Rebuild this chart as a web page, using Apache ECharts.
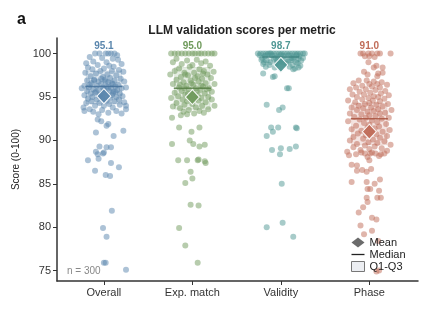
<!DOCTYPE html>
<html>
<head>
<meta charset="utf-8">
<script src="https://cdn.jsdelivr.net/npm/echarts@6/dist/echarts.min.js"></script>
<style>
  html, body { margin: 0; padding: 0; background: #fff; }
  #main { width: 433px; height: 319px; }
</style>
</head>
<body>
<div id="main"></div>
<script>
var categories = ['Overall', 'Exp. match', 'Validity', 'Phase'];
var colors = ['#5a86ad', '#6f9a5c', '#4f9794', '#c06c58'];
var darkColors = ['#44709a', '#577f45', '#3b7f7c', '#a8523e'];
var yTicks = [75, 80, 85, 90, 95, 100];

var means = [95.1, 95.0, 98.7, 91.0];
var medians = [96.2, 96.0, 99.6, 92.5];
var q1 = [94.2, 93.6, 99.0, 89.5];
var q3 = [98.0, 98.4, 100, 94.3];

// [jitter offset, score]
var overallPts = [
  [-0.05,100],[0.02,100],[0.08,100],[0.12,100],[-0.1,100],[0.05,100],[0.15,99.8],[-0.16,99.6],[0.16,99.3],[-0.2,98.9],
  [-0.02,99.5],[0.1,99.4],[-0.12,99.1],[0.03,99.0],[0.2,98.8],[-0.07,98.7],[0.11,98.5],[-0.18,98.4],[0.0,98.3],[0.06,98.6],
  [-0.13,98.2],[0.17,98.1],[-0.04,98.0],[0.09,98.0],[0.22,97.9],
  [-0.21,97.8],[-0.09,97.7],[0.04,97.6],[0.14,97.5],[-0.15,97.4],[-0.01,97.3],[0.07,97.2],[0.19,97.1],[-0.11,97.0],[0.01,97.0],
  [0.12,96.9],[-0.19,96.9],[-0.06,96.8],[0.23,96.8],[0.05,96.7],[-0.14,96.6],[0.1,96.5],[-0.03,96.5],[0.16,96.4],[-0.22,96.3],
  [-0.08,96.3],[0.03,96.2],[0.13,96.2],[-0.17,96.1],[-0.01,96.1],[0.08,96.0],[0.2,96.0],[-0.12,95.9],[0.0,95.9],[-0.25,96.0],
  [0.25,96.1],[0.15,95.8],[-0.06,95.8],[0.06,95.7],[-0.19,95.7],[0.11,95.6],[-0.1,95.5],[0.02,95.5],[0.18,95.4],[-0.15,95.4],
  [-0.04,95.3],[0.09,95.2],[-0.22,95.2],[0.21,95.1],[-0.13,95.0],[0.14,95.0],[-0.02,94.9],[0.07,94.9],[-0.18,94.8],[0.17,94.7],
  [-0.08,94.7],[0.03,94.6],[0.12,94.5],[-0.14,94.5],[0.23,94.4],
  [-0.2,94.3],[-0.05,94.3],[0.06,94.2],[0.18,94.1],[-0.1,94.0],[0.0,94.0],[0.25,94.0],[-0.23,93.8],[0.1,93.8],[-0.16,93.6],
  [0.25,93.6],[-0.02,93.5],[0.14,93.4],[-0.12,93.3],[0.05,93.2],[-0.22,93.4],[0.2,93.1],[-0.06,93.0],
  [-0.07,92.4],[-0.03,92.2],[0.03,91.7],[0.05,91.9],[0.22,91.1],[-0.09,90.9],[0.11,90.5],[-0.05,89.3],[0.03,89.2],[0.08,89.2],
  [-0.09,88.7],[-0.01,88.5],[-0.07,88.4],[0.0,88.6],[-0.18,87.7],[-0.06,87.9],[0.08,87.4],[0.17,86.9],[-0.1,86.5],[0.02,86.0],
  [0.07,85.9],[0.09,81.9],[-0.01,79.9],[0.03,78.9],[0.0,75.9],[0.02,75.9],[0.25,75.1],
  [-0.03,97.1],[0.09,96.6],[-0.16,96.4],[0.05,96.1],[-0.09,95.6],[0.13,95.6],[-0.05,95.1],[0.1,95.4],[-0.11,96.9],[0.02,96.8]
];

var expPts = [
  [-0.24,100],[-0.2,100],[-0.16,100],[-0.12,100],[-0.08,100],[-0.04,100],[0,100],[0.03,100],[0.07,100],[0.1,100],
  [0.14,100],[0.18,100],[0.22,100],[0.25,100],
  [-0.18,99.4],[0.05,99.3],[-0.06,99.2],[0.15,99.1],[-0.22,99.0],[0.1,98.9],[-0.12,98.8],[0.0,98.7],[0.2,98.6],[-0.03,98.5],
  [-0.15,98.3],[0.08,98.2],[-0.2,98.0],[0.13,98.0],[0.24,97.9],[-0.09,97.8],[0.02,97.8],[-0.25,97.6],[0.17,97.6],[-0.05,97.5],
  [0.06,97.4],[-0.13,97.3],[0.21,97.2],[0.11,97.1],
  [-0.18,97.0],[-0.02,96.9],[0.07,96.8],[-0.1,96.7],[0.15,96.6],[0.25,96.5],[-0.22,96.5],[0.01,96.4],[-0.07,96.3],[0.12,96.2],
  [-0.15,96.1],[0.04,96.0],[0.19,96.0],[-0.04,95.9],[0.09,95.8],[-0.12,95.7],[0.22,95.6],[-0.2,95.5],
  [0.0,95.5],[0.14,95.4],[-0.08,95.3],[0.06,95.2],[-0.16,95.1],[0.18,95.0],[-0.03,95.0],[0.1,94.9],[-0.24,94.9],[0.03,94.8],
  [-0.11,94.7],[0.22,94.7],[0.07,94.6],[-0.06,94.5],
  [0.15,94.4],[-0.18,94.3],[0.0,94.2],[-0.09,94.1],[0.11,94.0],[0.25,94.0],[-0.22,93.9],[0.04,93.8],[-0.14,93.7],[0.18,93.6],
  [-0.04,93.5],[0.08,93.4],[-0.1,93.3],[0.13,93.2],[-0.06,93.0],[0.02,93.1],
  [-0.23,92.6],[-0.13,92.9],[-0.15,91.5],[0.08,91.5],[-0.01,91.0],[-0.23,89.6],[-0.03,90.0],[0.01,89.6],[0.08,89.3],[0.14,89.5],
  [-0.06,87.7],[0.06,87.7],[0.14,87.6],[-0.16,87.7],[0.07,87.8],[0.15,87.4],[-0.02,86.4],[0.0,85.6],[-0.08,85.1],[-0.02,82.6],
  [0.07,82.5],[-0.15,79.9],[-0.08,77.9],[0.06,75.9],
  [-0.01,96.6],[0.1,96.3],[-0.09,96.0],[0.05,95.7],[-0.05,95.4],[0.16,95.9],[-0.14,96.4],[0.03,97.2],[-0.08,97.6],[0.12,97.7]
];

var validityPts = [
  [-0.26,100],[-0.23,100],[-0.2,100],[-0.17,100],[-0.14,100],[-0.11,100],[-0.08,100],[-0.05,100],[-0.02,100],[0.01,100],
  [0.04,100],[0.07,100],[0.1,100],[0.13,100],[0.16,100],[0.19,100],[0.22,100],[0.25,100],[0.27,100],[-0.12,100],
  [-0.24,99.8],[-0.18,99.7],[-0.1,99.8],[-0.03,99.6],[0.03,99.7],[0.09,99.8],[0.15,99.6],[0.21,99.7],[0.25,99.5],[-0.21,99.5],
  [-0.06,99.5],[0.12,99.5],[0.0,99.9],[0.18,99.9],[-0.15,99.9],
  [-0.22,99.3],[-0.16,99.2],[-0.08,99.4],[-0.01,99.1],[0.05,99.3],[0.11,99.2],[0.17,99.0],[0.23,99.2],[-0.12,99.0],[0.02,99.0],
  [0.14,99.4],[-0.04,99.2],[0.2,99.4],[-0.19,99.0],[0.08,99.1],
  [-0.2,98.8],[-0.13,98.7],[-0.05,98.9],[0.06,98.8],[0.13,98.7],[0.19,98.9],[0.22,98.6],[-0.17,98.5],[-0.07,98.4],[0.1,98.5],
  [0.16,98.3],[0.2,98.4],
  [-0.2,97.7],[-0.09,97.3],[-0.07,97.4],[0.14,98.2],[0.07,96.0],[0.09,96.0],[-0.16,94.1],[-0.02,93.5],[0.02,93.8],[-0.11,91.5],
  [-0.03,91.5],[0.17,91.5],[0.18,91.4],[-0.09,91.0],[-0.16,90.5],[-0.1,88.9],[0.0,89.1],[-0.01,88.4],[0.1,89.0],[0.17,89.3],
  [0.01,85.0],[-0.16,80.0],[0.02,80.5],[0.14,78.9]
];

var phasePts = [
  [-0.1,100],[-0.07,100],[-0.01,100],[0.03,100],[0.09,100],[0.12,100],[0.24,100],[-0.05,99.7],[0.0,99.7],[0.06,99.6],
  [-0.01,99.0],[0.08,98.6],[0.15,98.4],[0.05,98.4],[-0.06,97.9],[0.1,97.7],[-0.02,97.6],[0.09,97.4],[0.15,97.8],
  [-0.12,96.9],[-0.03,96.9],[0.05,96.8],[0.14,96.7],[-0.18,96.6],[0.0,96.5],[0.09,96.5],[0.2,96.4],[-0.08,96.3],[0.03,96.2],
  [-0.15,96.1],[0.12,96.1],[-0.22,95.9],[-0.04,95.9],[0.07,95.8],[0.18,95.7],[-0.11,95.6],[0.01,95.5],[0.13,95.4],[-0.19,95.3],
  [-0.06,95.3],[0.22,95.2],[0.05,95.1],[-0.14,95.0],[0.1,95.0],
  [-0.01,94.9],[0.17,94.8],[-0.24,94.6],[-0.08,94.7],[0.04,94.6],[0.12,94.5],[-0.16,94.4],[0.0,94.3],[0.21,94.2],[-0.05,94.2],
  [0.08,94.1],[-0.12,94.0],[0.15,93.9],[-0.2,93.8],[0.02,93.8],[-0.07,93.7],[0.1,93.6],[0.25,93.5],[-0.14,93.5],[0.05,93.4],
  [-0.02,93.3],[0.18,93.2],[-0.22,93.1],[0.12,93.1],[-0.09,93.0],[0.0,92.9],[0.07,92.8],[-0.17,92.7],[0.22,92.6],[-0.04,92.6],
  [0.14,92.5],[-0.11,92.4],[0.03,92.3],[-0.24,92.2],[0.09,92.1],[-0.06,92.0],[0.19,91.9],[0.0,91.8],[-0.15,91.7],[0.11,91.6],
  [-0.02,91.5],[0.06,91.4],[-0.2,91.3],[0.23,91.2],[-0.09,91.1],[0.15,91.0],[0.02,90.9],[-0.13,90.8],[0.08,90.7],[-0.04,90.6],
  [0.2,90.5],[-0.18,90.4],
  [0.12,90.3],[-0.07,90.2],[0.04,90.1],[-0.22,90.0],[0.17,89.9],[-0.01,89.8],[0.09,89.7],[-0.14,89.6],[0.24,89.5],[-0.05,89.4],
  [0.06,89.3],[-0.18,89.2],[0.14,89.1],[0.0,89.0],[-0.1,88.9],[0.2,88.8],[-0.25,88.7],[0.03,88.6],
  [-0.23,88.3],[-0.15,88.4],[-0.09,88.6],[-0.05,88.5],[0.01,88.5],[0.07,88.5],[0.13,88.4],[0.17,88.5],[0.11,88.2],[-0.02,88.1],
  [-0.2,87.2],[-0.14,87.1],[-0.08,86.6],[-0.03,86.4],[-0.14,86.5],[0.0,87.7],[0.02,86.7],[-0.2,85.2],[-0.03,85.2],[0.06,85.0],
  [0.12,85.5],[-0.02,84.4],[0.01,84.4],[0.11,84.2],[0.13,83.4],[0.09,83.4],[-0.03,83.4],[-0.02,82.9],[-0.07,82.3],[-0.12,81.7],
  [0.03,81.1],[0.08,80.9],[-0.1,80.2],[0.03,79.6],[-0.06,79.2],[0.1,78.4],[0.11,75.0],[0.08,74.9]
];

var allPts = [overallPts, expPts, validityPts, phasePts];
var font = 'Liberation Sans, Arial, sans-serif';

var myChart = echarts.init(document.getElementById('main'));

var series = [];
allPts.forEach(function (pts, i) {
  series.push({
    type: 'scatter',
    name: categories[i],
    symbolSize: 6,
    itemStyle: { color: colors[i], opacity: 0.5 },
    silent: true,
    z: 2,
    data: pts.map(function (p) { return [i + p[0], p[1]]; })
  });
});

// Q1-Q3 boxes
series.push({
  type: 'custom',
  name: 'Q1-Q3',
  z: 3,
  silent: true,
  data: categories.map(function (c, i) { return [i, q1[i], q3[i]]; }),
  renderItem: function (params, api) {
    var i = api.value(0);
    var a = api.coord([i - 0.2, api.value(2)]);
    var b = api.coord([i + 0.2, api.value(1)]);
    return {
      type: 'rect',
      shape: { x: a[0], y: a[1], width: b[0] - a[0], height: b[1] - a[1] },
      style: { fill: colors[i], opacity: 0.18, stroke: darkColors[i], lineWidth: 0.8 }
    };
  }
});

// medians
series.push({
  type: 'custom',
  name: 'Median',
  z: 4,
  silent: true,
  data: categories.map(function (c, i) { return [i, medians[i]]; }),
  renderItem: function (params, api) {
    var i = api.value(0);
    var a = api.coord([i - 0.21, api.value(1)]);
    var b = api.coord([i + 0.21, api.value(1)]);
    return {
      type: 'line',
      shape: { x1: a[0], y1: a[1], x2: b[0], y2: b[1] },
      style: { stroke: darkColors[i], lineWidth: 1.5, opacity: 0.85 }
    };
  }
});

// means
series.push({
  type: 'scatter',
  name: 'Mean',
  symbol: 'diamond',
  symbolSize: [14, 15],
  z: 5,
  silent: true,
  itemStyle: { color: '#666' },
  data: means.map(function (m, i) {
    return { value: [i, m], itemStyle: { color: colors[i], opacity: 0.95, borderColor: '#fff', borderWidth: 1 } };
  })
});

var option = {
  animation: false,
  backgroundColor: '#fff',
  title: [
    { text: 'a', left: 12, top: 7, textStyle: { fontFamily: font, fontSize: 16, fontWeight: 'bold', color: '#111' } },
    { text: 'LLM validation scores per metric', left: 237, textAlign: 'center', top: 20,
      textStyle: { fontFamily: font, fontSize: 12, fontWeight: 'bold', color: '#222' } }
  ],
  grid: { left: 57, right: 15, top: 38, bottom: 38 },
  legend: {
    left: 346, top: 232, orient: 'vertical',
    itemWidth: 13, itemHeight: 10, itemGap: 1,
    selectedMode: false,
    textStyle: { fontFamily: font, fontSize: 11, color: '#222' },
    data: [
      { name: 'Mean', icon: 'diamond', itemStyle: { color: '#6b6b6b', opacity: 1, borderWidth: 0 } },
      { name: 'Median', icon: 'path://M0,9h20v2h-20z', itemStyle: { color: '#222', opacity: 1 } },
      { name: 'Q1-Q3', icon: 'rect', itemStyle: { color: '#eceef2', opacity: 1, borderColor: '#777', borderWidth: 1 } }
    ]
  },
  xAxis: [{
    type: 'value', min: -0.53, max: 3.55,
    splitLine: { show: false },
    axisLine: { show: true, onZero: false, lineStyle: { color: '#333', width: 1.5 } },
    axisTick: { show: true, length: 4, customValues: [0, 1, 2, 3], lineStyle: { color: '#333' } },
    axisLabel: {
      customValues: [0, 1, 2, 3], margin: 6,
      fontFamily: font, fontSize: 11, color: '#333',
      formatter: function (v) { return categories[Math.round(v)]; }
    }
  }, {
    type: 'value', min: -0.53, max: 3.55, position: 'top',
    splitLine: { show: false }, axisLine: { show: false }, axisTick: { show: false },
    axisLabel: {
      inside: true, margin: 3, customValues: [0, 1, 2, 3],
      fontFamily: font, fontSize: 10, fontWeight: 'bold',
      formatter: function (v) { var i = Math.round(v); return '{c' + i + '|' + means[i].toFixed(1) + '}'; },
      rich: {
        c0: { color: colors[0], fontWeight: 'bold', fontSize: 10, fontFamily: font },
        c1: { color: colors[1], fontWeight: 'bold', fontSize: 10, fontFamily: font },
        c2: { color: colors[2], fontWeight: 'bold', fontSize: 10, fontFamily: font },
        c3: { color: colors[3], fontWeight: 'bold', fontSize: 10, fontFamily: font }
      }
    }
  }],
  yAxis: {
    type: 'value', min: 73.8, max: 101.8,
    name: 'Score (0-100)', nameLocation: 'middle', nameGap: 33,
    nameTextStyle: { fontFamily: font, fontSize: 10, color: '#222' },
    splitLine: { show: false },
    axisLine: { show: true, onZero: false, lineStyle: { color: '#333', width: 1.5 } },
    axisTick: { show: true, length: 4, customValues: yTicks, lineStyle: { color: '#333' } },
    axisLabel: { customValues: yTicks, margin: 6, fontFamily: font, fontSize: 11, color: '#333' }
  },
  graphic: [{
    type: 'text', left: 67, top: 266,
    style: { text: 'n = 300', font: '10px ' + font, fill: '#888' }
  }],
  series: series
};

myChart.setOption(option);
</script>
</body>
</html>
